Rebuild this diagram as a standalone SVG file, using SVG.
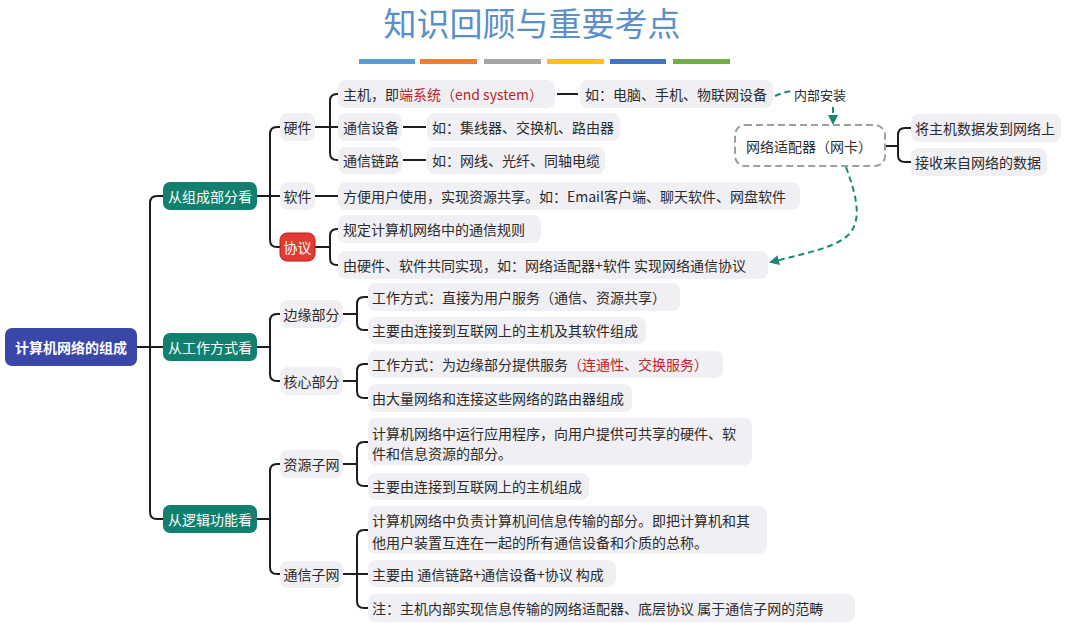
<svg xmlns="http://www.w3.org/2000/svg" width="1084" height="631" viewBox="0 0 1084 631">
<defs>
<marker id="ah" viewBox="0 0 10 10" refX="8" refY="5" markerWidth="5" markerHeight="5" orient="auto-start-reverse">
<path d="M0,0 L10,5 L0,10 z" fill="#178a76"/>
</marker>
<style>
text{font-family:"Noto Sans CJK SC","Noto Sans",sans-serif;font-size:14px;fill:#2b2b2b;dominant-baseline:central}
.g{fill:#f0eff3}
.t1{fill:#13806f}
.w{fill:#ffffff}
.red{fill:#b8262a}
.ln{fill:none;stroke:#1e1e1e;stroke-width:2}
.dl{fill:none;stroke:#178a76;stroke-width:2;stroke-dasharray:6 4}
</style>
</defs>
<rect width="1084" height="631" fill="#ffffff"/>
<g id="title">
<text x="532" y="36" text-anchor="middle" style="font-size:33px;fill:#5b8fc7;dominant-baseline:alphabetic">知识回顾与重要考点</text>
<rect x="359" y="59" width="56" height="5" fill="#5b9bd5"/>
<rect x="420" y="59" width="57" height="5" fill="#ed7d31"/>
<rect x="484" y="59" width="57" height="5" fill="#a5a5a5"/>
<rect x="547" y="59" width="57" height="5" fill="#ffc000"/>
<rect x="610" y="59" width="56" height="5" fill="#4472c4"/>
<rect x="673" y="59" width="57" height="5" fill="#70ad47"/>
</g>
<g id="connectors">
<path class="ln" d="M137,347 H163"/>
<path class="ln" d="M163,196 H157 Q150,196 150,203 V512 Q150,519 157,519 H163"/>
<path class="ln" d="M257,196 H280"/>
<path class="ln" d="M280,127 H277 Q270,127 270,134 V240 Q270,247 277,247 H280"/>
<path class="ln" d="M257,347 H270"/>
<path class="ln" d="M280,314 H277 Q270,314 270,321 V374 Q270,381 277,381 H280"/>
<path class="ln" d="M257,519 H270"/>
<path class="ln" d="M280,464 H277 Q270,464 270,471 V567 Q270,574 277,574 H280"/>
<path class="ln" d="M315,127 H330"/>
<path class="ln" d="M338,94 H337 Q330,94 330,101 V153 Q330,160 337,160 H338 M330,127 H338"/>
<path class="ln" d="M315,196 H338"/>
<path class="ln" d="M315,247 H330"/>
<path class="ln" d="M338,229 H337 Q330,229 330,236 V258 Q330,265 337,265 H338"/>
<path class="ln" d="M557,94 H578"/>
<path class="ln" d="M403,127 H426"/>
<path class="ln" d="M403,160 H426"/>
<path class="ln" d="M343,314 H357"/>
<path class="ln" d="M368,297 H364 Q357,297 357,304 V323 Q357,330 364,330 H368"/>
<path class="ln" d="M343,381 H357"/>
<path class="ln" d="M368,364 H364 Q357,364 357,371 V391 Q357,398 364,398 H368"/>
<path class="ln" d="M343,464 H357"/>
<path class="ln" d="M368,442 H364 Q357,442 357,449 V479 Q357,486 364,486 H368"/>
<path class="ln" d="M343,574 H368"/>
<path class="ln" d="M368,530 H364 Q357,530 357,537 V601 Q357,608 364,608 H368"/>
<path class="ln" d="M885,146 H898"/>
<path class="ln" d="M911,128 H905 Q898,128 898,135 V155 Q898,162 905,162 H911"/>
<path class="dl" d="M775,96 Q784,92 792,91"/>
<path class="dl" d="M833,107 V123" marker-end="url(#ah)"/>
<path class="dl" d="M846,167 C858,200 864,226 842,240 C825,250 795,256 771,262" marker-end="url(#ah)"/>
</g>
<g id="root">
<rect x="5" y="328" width="132" height="38" rx="7" fill="#3a46a8"/>
<text x="71" y="347" text-anchor="middle" class="w" style="font-weight:bold">计算机网络的组成</text>
</g>
<g id="n-composition">
<rect x="163" y="182" width="94" height="28" rx="7" class="t1"/>
<text x="210" y="196" text-anchor="middle" class="w">从组成部分看</text>
</g>
<g id="n-workmode">
<rect x="163" y="333" width="94" height="28" rx="7" class="t1"/>
<text x="210" y="347" text-anchor="middle" class="w">从工作方式看</text>
</g>
<g id="n-logic">
<rect x="163" y="505" width="94" height="28" rx="7" class="t1"/>
<text x="210" y="519" text-anchor="middle" class="w">从逻辑功能看</text>
</g>
<g id="n-hardware">
<rect x="280" y="113" width="35" height="28" rx="8" class="g"/>
<text x="297.5" y="127" text-anchor="middle">硬件</text>
</g>
<g id="n-software">
<rect x="280" y="182" width="35" height="28" rx="8" class="g"/>
<text x="297.5" y="196" text-anchor="middle">软件</text>
</g>
<g id="n-protocol">
<rect x="280" y="233" width="35" height="28" rx="7" fill="#e53935" stroke="#b71c1c" stroke-width="1"/>
<text x="297.5" y="247" text-anchor="middle" class="w">协议</text>
</g>
<g id="n-host">
<rect x="338" y="80" width="217" height="28" rx="8" class="g"/>
<text x="343" y="94">主机，即<tspan class="red">端系统（end system）</tspan></text>
</g>
<g id="n-host-eg">
<rect x="580" y="80" width="193" height="28" rx="8" class="g"/>
<text x="585" y="94">如：电脑、手机、物联网设备</text>
</g>
<g id="n-inner">
<text x="794" y="94" style="font-size:13px">内部安装</text>
</g>
<g id="n-device">
<rect x="338" y="113" width="64" height="28" rx="8" class="g"/>
<text x="343" y="127">通信设备</text>
</g>
<g id="n-device-eg">
<rect x="427" y="113" width="193" height="28" rx="8" class="g"/>
<text x="432" y="127">如：集线器、交换机、路由器</text>
</g>
<g id="n-link">
<rect x="338" y="147" width="64" height="27" rx="8" class="g"/>
<text x="343" y="160">通信链路</text>
</g>
<g id="n-link-eg">
<rect x="427" y="147" width="178" height="27" rx="8" class="g"/>
<text x="432" y="160">如：网线、光纤、同轴电缆</text>
</g>
<g id="n-software-desc">
<rect x="338" y="182" width="462" height="28" rx="8" class="g"/>
<text x="343" y="196">方便用户使用，实现资源共享。如：Email客户端、聊天软件、网盘软件</text>
</g>
<g id="n-proto-rule">
<rect x="338" y="215" width="203" height="28" rx="8" class="g"/>
<text x="343" y="229">规定计算机网络中的通信规则</text>
</g>
<g id="n-proto-impl">
<rect x="338" y="251" width="430" height="28" rx="8" class="g"/>
<text x="343" y="265">由硬件、软件共同实现，如：网络适配器+软件 实现网络通信协议</text>
</g>
<g id="n-nic">
<rect x="735" y="125" width="150" height="41" rx="10" fill="#ffffff" stroke="#9e9e9e" stroke-width="2" stroke-dasharray="7 4"/>
<text x="746" y="146">网络适配器（网卡）</text>
</g>
<g id="n-nic-send">
<rect x="911" y="114" width="150" height="28" rx="8" class="g"/>
<text x="915" y="128">将主机数据发到网络上</text>
</g>
<g id="n-nic-recv">
<rect x="911" y="148" width="136" height="28" rx="8" class="g"/>
<text x="915" y="162">接收来自网络的数据</text>
</g>
<g id="n-edge">
<rect x="280" y="300" width="63" height="28" rx="8" class="g"/>
<text x="311.5" y="314" text-anchor="middle">边缘部分</text>
</g>
<g id="n-core">
<rect x="280" y="367" width="63" height="28" rx="8" class="g"/>
<text x="311.5" y="381" text-anchor="middle">核心部分</text>
</g>
<g id="n-edge-mode">
<rect x="368" y="283" width="312" height="28" rx="8" class="g"/>
<text x="372" y="297">工作方式：直接为用户服务（通信、资源共享）</text>
</g>
<g id="n-edge-comp">
<rect x="368" y="317" width="278" height="27" rx="8" class="g"/>
<text x="372" y="330">主要由连接到互联网上的主机及其软件组成</text>
</g>
<g id="n-core-mode">
<rect x="368" y="351" width="355" height="27" rx="8" class="g"/>
<text x="372" y="364">工作方式：为边缘部分提供服务<tspan class="red">（连通性、交换服务）</tspan></text>
</g>
<g id="n-core-comp">
<rect x="368" y="384" width="264" height="28" rx="8" class="g"/>
<text x="372" y="398">由大量网络和连接这些网络的路由器组成</text>
</g>
<g id="n-resource">
<rect x="280" y="450" width="63" height="28" rx="8" class="g"/>
<text x="311.5" y="464" text-anchor="middle">资源子网</text>
</g>
<g id="n-commnet">
<rect x="280" y="561" width="63" height="27" rx="8" class="g"/>
<text x="311.5" y="574" text-anchor="middle">通信子网</text>
</g>
<g id="n-res-def">
<rect x="368" y="418" width="384" height="47" rx="8" class="g"/>
<text x="372" y="433">计算机网络中运行应用程序，向用户提供可共享的硬件、软</text>
<text x="372" y="453">件和信息资源的部分。</text>
</g>
<g id="n-res-comp">
<rect x="368" y="473" width="221" height="27" rx="8" class="g"/>
<text x="372" y="486">主要由连接到互联网上的主机组成</text>
</g>
<g id="n-comm-def">
<rect x="368" y="506" width="399" height="48" rx="8" class="g"/>
<text x="372" y="520">计算机网络中负责计算机间信息传输的部分。即把计算机和其</text>
<text x="372" y="542">他用户装置互连在一起的所有通信设备和介质的总称。</text>
</g>
<g id="n-comm-comp">
<rect x="368" y="560" width="248" height="27" rx="8" class="g"/>
<text x="372" y="574">主要由 通信链路+通信设备+协议 构成</text>
</g>
<g id="n-comm-note">
<rect x="368" y="594" width="487" height="28" rx="8" class="g"/>
<text x="372" y="608">注：主机内部实现信息传输的网络适配器、底层协议 属于通信子网的范畴</text>
</g>
</svg>
